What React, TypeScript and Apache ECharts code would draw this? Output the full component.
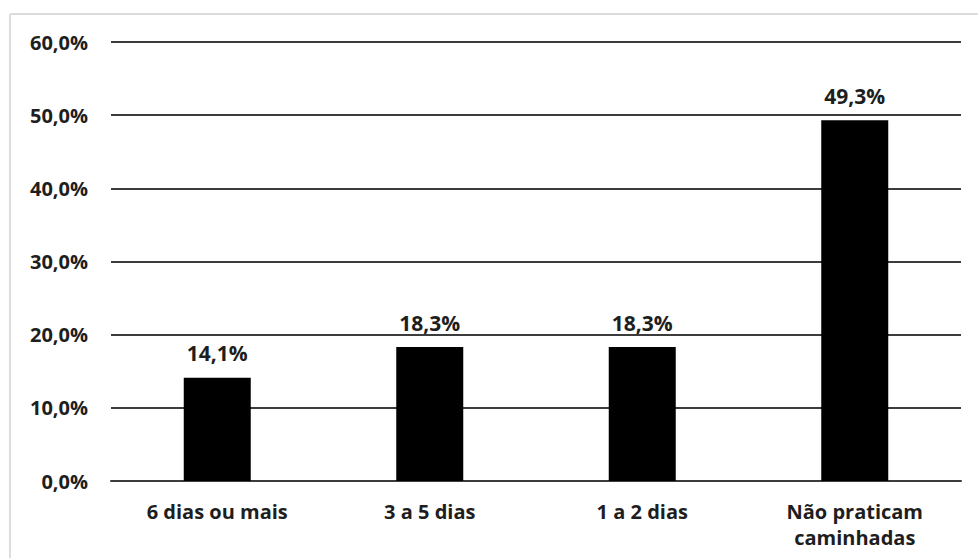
import React, { useEffect, useRef } from "react";
import * as echarts from "echarts";

const categories = ["6 dias ou mais", "3 a 5 dias", "1 a 2 dias", "Não praticam\ncaminhadas"];
const values = [14.1, 18.3, 18.3, 49.3];
const yTicks = [0, 10, 20, 30, 40, 50, 60];

const fmt = (v: number) => v.toFixed(1).replace(".", ",") + "%";

export default function App() {
  const ref = useRef<HTMLDivElement>(null);
  useEffect(() => {
    if (!ref.current) return;
    const chart = echarts.init(ref.current, null, { renderer: "svg" });
    const font = "'Open Sans', Lato, sans-serif";
    chart.setOption({
      animation: false,
      backgroundColor: "#ffffff",
      graphic: [
        { type: "line", shape: { x1: 10, y1: 14, x2: 978, y2: 14 }, style: { stroke: "#dcdcdc", lineWidth: 2 } },
        { type: "line", shape: { x1: 10, y1: 14, x2: 10, y2: 558 }, style: { stroke: "#dcdcdc", lineWidth: 2 } },
      ],
      grid: { left: 111, right: 17, top: 42, bottom: 77 },
      xAxis: {
        type: "category",
        data: categories,
        axisLine: { show: true, lineStyle: { color: "#3c3c3c", width: 2 } },
        axisTick: { show: false },
        axisLabel: {
          color: "#1e1e1e",
          fontFamily: font,
          fontWeight: "bold",
          fontSize: 20,
          margin: 17,
          lineHeight: 26,
        },
      },
      yAxis: {
        type: "value",
        min: yTicks[0],
        max: yTicks[yTicks.length - 1],
        interval: 10,
        axisLine: { show: false },
        axisTick: { show: false },
        splitLine: { show: true, lineStyle: { color: "#3c3c3c", width: 2 } },
        axisLabel: {
          color: "#1e1e1e",
          fontFamily: font,
          fontWeight: "bold",
          fontSize: 20,
          margin: 23,
          formatter: (v: number) => fmt(v),
        },
      },
      series: [
        {
          type: "bar",
          data: values,
          barWidth: 67,
          itemStyle: { color: "#000000" },
          label: {
            show: true,
            position: "top",
            distance: 14,
            color: "#1e1e1e",
            fontFamily: font,
            fontWeight: "bold",
            fontSize: 21,
            formatter: (p: any) => fmt(p.value),
          },
        },
      ],
    });
    return () => chart.dispose();
  }, []);
  return <div ref={ref} style={{ position: "fixed", left: 0, top: 0, width: 978, height: 558 }} />;
}
